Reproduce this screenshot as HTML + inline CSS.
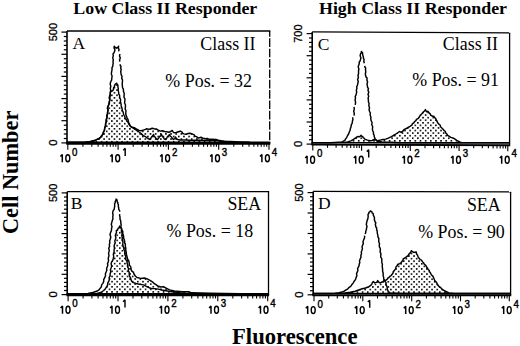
<!DOCTYPE html><html><head><meta charset="utf-8"><style>
html,body{margin:0;padding:0;background:#fff;width:520px;height:346px;overflow:hidden}
svg{display:block}
.serif{font-family:"Liberation Serif",serif}
.sans{font-family:"Liberation Sans",sans-serif}
.lab{stroke:none}
.tk{stroke:#000;stroke-width:0.45}
.yl{stroke:#000;stroke-width:0.3}
</style></head><body>
<svg width="520" height="346" viewBox="0 0 520 346">
<defs><pattern id="dotsA" patternUnits="userSpaceOnUse" x="105.90" y="125.40" width="5.15" height="5.15"><rect x="0" y="0" width="1.6" height="1.6" fill="#000"/><rect x="2.575" y="2.575" width="1.6" height="1.6" fill="#000"/></pattern><pattern id="dotsB" patternUnits="userSpaceOnUse" x="116.40" y="270.50" width="5.15" height="5.15"><rect x="0" y="0" width="1.6" height="1.6" fill="#000"/><rect x="2.575" y="2.575" width="1.6" height="1.6" fill="#000"/></pattern><pattern id="dotsC" patternUnits="userSpaceOnUse" x="424.80" y="119.40" width="5.15" height="5.15"><rect x="0" y="0" width="1.6" height="1.6" fill="#000"/><rect x="2.575" y="2.575" width="1.6" height="1.6" fill="#000"/></pattern><pattern id="dotsD" patternUnits="userSpaceOnUse" x="408.10" y="270.70" width="5.15" height="5.15"><rect x="0" y="0" width="1.6" height="1.6" fill="#000"/><rect x="2.575" y="2.575" width="1.6" height="1.6" fill="#000"/></pattern></defs>
<rect width="520" height="346" fill="#fff"/>

<text class="serif" x="73.3" y="13.5" font-size="17.2" font-weight="bold" textLength="184" lengthAdjust="spacingAndGlyphs">Low Class II Responder</text>
<text class="serif" x="319" y="13.5" font-size="17.2" font-weight="bold" textLength="188" lengthAdjust="spacingAndGlyphs">High Class II Responder</text>
<text class="serif" x="232" y="343.6" font-size="22.5" font-weight="bold" textLength="125.5" lengthAdjust="spacingAndGlyphs">Fluorescence</text>
<text class="serif" transform="translate(18.2,234) rotate(-90)" x="0" y="0" font-size="22.5" font-weight="bold" textLength="123.3" lengthAdjust="spacingAndGlyphs">Cell Number</text>
<path d="M67.0,142.3 L85.0,142.3 L90.4,141.5 L95.6,140.2 L99.1,138.4 L100.6,137.3 L101.7,135.8 L102.8,134.2 L103.4,132.3 L104.4,130.3 L104.7,128.0 L105.5,125.9 L105.6,123.7 L106.2,121.9 L106.2,120.0 L106.9,117.8 L106.9,115.5 L107.5,113.8 L107.6,112.0 L108.1,110.1 L107.4,108.2 L108.0,106.3 L108.9,104.2 L109.3,101.9 L109.9,99.5 L109.9,97.0 L110.3,95.0 L110.2,93.0 L111.0,91.5 L112.8,90.5 L113.5,89.4 L113.5,88.0 L114.3,86.9 L114.5,85.5 L115.5,84.0 L116.7,83.2 L117.1,84.2 L117.9,85.0 L117.9,86.8 L118.3,88.5 L118.1,90.2 L118.6,91.9 L118.7,93.8 L119.6,95.4 L119.7,97.5 L120.6,99.5 L120.4,101.6 L121.0,103.7 L121.2,105.9 L121.9,108.0 L122.3,110.2 L123.2,112.3 L123.6,114.5 L124.7,116.5 L125.3,118.4 L126.5,120.0 L127.0,121.2 L128.0,122.1 L128.7,124.1 L130.1,125.6 L130.9,126.7 L132.2,127.3 L134.3,127.6 L136.3,129.0 L139.1,130.4 L141.2,130.8 L143.3,130.1 L145.4,129.4 L146.8,128.7 L148.8,129.4 L150.9,128.7 L152.1,128.3 L154.2,128.7 L156.3,129.0 L158.3,130.1 L160.4,131.1 L162.5,130.8 L164.6,131.5 L166.7,131.8 L168.8,132.2 L170.8,131.5 L172.2,130.4 L172.9,131.8 L174.1,132.8 L176.2,132.5 L178.3,131.8 L180.3,131.1 L182.1,132.2 L182.7,133.3 L183.8,133.9 L185.9,134.2 L188.0,133.5 L190.1,133.2 L192.1,133.9 L194.2,134.9 L195.0,136.1 L196.3,136.7 L198.6,138.1 L200.9,137.3 L203.2,138.1 L205.6,138.7 L207.3,138.4 L208.5,139.2 L211.3,139.3 L216.0,139.4 L218.3,140.2 L221.2,140.7 L224.0,141.1 L230.4,141.4 L240.0,141.9 L250.0,142.3 L269.0,142.3 L269.0,142.3 L67.0,142.3 Z" fill="url(#dotsA)" stroke="#000" stroke-width="1.45" stroke-linejoin="round"/>
<path d="M67.0,142.3 L85.0,142.3 L90.4,141.5 L95.6,140.2 L99.1,138.4 L100.6,137.3 L101.7,135.8 L102.9,134.2 L103.4,132.3 L104.5,130.3 L104.7,128.0 L105.4,125.9 L105.6,123.7 L106.2,121.9 L106.2,120.0 L106.9,117.8 L106.9,115.5 L107.6,113.8 L107.6,112.0 L108.1,110.1 L107.5,108.2 L108.0,106.3 L109.1,104.2 L109.3,101.9 L109.8,100.0 L109.2,98.0 L109.6,96.0 L110.3,94.1 L110.3,92.0 L110.7,90.2 L110.3,88.4 L110.8,86.3 L110.2,84.1 L110.6,82.0 L111.6,80.2 L111.8,78.1 L112.1,76.0 L111.3,74.0 L111.6,71.9 L112.0,69.8 L112.0,67.7 L112.7,66.4 L112.9,64.9 L113.2,63.3 L113.0,61.7 L113.3,59.8 L112.7,57.9 L113.3,55.9 L113.0,54.0 L114.0,52.8 L114.6,51.3 L114.9,49.6 L114.0,47.9 L114.3,46.2 L115.2,47.4 L116.5,48.2 L117.8,47.4 L118.6,46.2 L118.3,47.9 L119.0,49.6 L118.6,51.3 M120.0,54.0 L119.5,55.9 L120.3,57.9 L119.6,59.8 L119.8,61.7 M120.2,64.3 L120.2,65.5 L121.0,66.3 L120.7,68.0 L121.2,69.8 L120.7,71.5 L121.0,73.3 L121.2,74.8 L122.0,76.1 L121.7,78.1 L122.5,80.0 L122.4,82.0 L122.2,84.2 L122.4,86.3 L122.6,87.8 L123.4,89.1 L123.4,91.2 L124.2,93.3 L124.1,95.4 L124.0,97.3 L125.0,99.0 L124.8,100.9 L124.6,103.0 L125.5,105.0 L125.4,107.1 L125.1,108.9 L126.0,110.5 L125.8,112.3 L125.8,114.6 L126.7,116.7 L127.1,118.2 L128.0,119.5 L128.5,122.0 L129.6,124.2 L129.8,125.6 L130.8,126.6 L133.6,128.3 L138.4,131.5 L141.2,133.5 L142.1,134.7 L143.3,135.6 L145.4,136.7 L147.4,138.1 L149.5,139.4 L150.7,138.4 L151.5,137.0 L152.7,135.9 L153.5,134.5 L154.2,136.2 L155.5,137.5 L156.2,138.8 L157.5,139.5 L158.7,138.1 L159.5,136.5 L160.8,135.8 L161.5,134.5 L162.3,136.2 L163.5,137.5 L164.2,138.8 L165.5,139.5 L166.7,138.1 L167.5,136.5 L168.7,135.7 L169.5,134.5 L170.2,136.0 L171.5,137.0 L172.3,138.4 L173.5,139.5 L174.8,138.5 L175.5,137.0 L176.3,138.4 L177.5,139.5 L180.0,140.0 L185.0,140.0 L190.0,140.2 L195.0,140.3 L200.0,140.3 L210.0,140.5 L216.0,140.5 L222.0,141.3 L230.0,142.0 L250.0,142.3" fill="none" stroke="#000" stroke-width="1.45" stroke-linejoin="round"/>
<line x1="67.0" y1="31.0" x2="270.34999999999997" y2="31.0" stroke="#000" stroke-width="1.3"/>
<line x1="269.7" y1="31.0" x2="269.7" y2="143.4" stroke="#000" stroke-width="1.3" stroke-dasharray="8.65 1.7" stroke-dashoffset="3"/>
<line x1="67.0" y1="31.0" x2="67.0" y2="143.4" stroke="#000" stroke-width="1.6"/>
<line x1="66.2" y1="143.4" x2="270.3" y2="143.4" stroke="#000" stroke-width="2.5"/>
<line x1="61.4" y1="142.9" x2="67.0" y2="142.9" stroke="#000" stroke-width="1.2"/>
<line x1="63.8" y1="138.5" x2="67.0" y2="138.5" stroke="#000" stroke-width="1.2"/>
<line x1="63.8" y1="134.0" x2="67.0" y2="134.0" stroke="#000" stroke-width="1.2"/>
<line x1="63.8" y1="129.6" x2="67.0" y2="129.6" stroke="#000" stroke-width="1.2"/>
<line x1="63.8" y1="125.2" x2="67.0" y2="125.2" stroke="#000" stroke-width="1.2"/>
<line x1="61.4" y1="120.7" x2="67.0" y2="120.7" stroke="#000" stroke-width="1.2"/>
<line x1="63.8" y1="116.3" x2="67.0" y2="116.3" stroke="#000" stroke-width="1.2"/>
<line x1="63.8" y1="111.9" x2="67.0" y2="111.9" stroke="#000" stroke-width="1.2"/>
<line x1="63.8" y1="107.4" x2="67.0" y2="107.4" stroke="#000" stroke-width="1.2"/>
<line x1="63.8" y1="103.0" x2="67.0" y2="103.0" stroke="#000" stroke-width="1.2"/>
<line x1="61.4" y1="98.6" x2="67.0" y2="98.6" stroke="#000" stroke-width="1.2"/>
<line x1="63.8" y1="94.1" x2="67.0" y2="94.1" stroke="#000" stroke-width="1.2"/>
<line x1="63.8" y1="89.7" x2="67.0" y2="89.7" stroke="#000" stroke-width="1.2"/>
<line x1="63.8" y1="85.3" x2="67.0" y2="85.3" stroke="#000" stroke-width="1.2"/>
<line x1="63.8" y1="80.9" x2="67.0" y2="80.9" stroke="#000" stroke-width="1.2"/>
<line x1="61.4" y1="76.4" x2="67.0" y2="76.4" stroke="#000" stroke-width="1.2"/>
<line x1="63.8" y1="72.0" x2="67.0" y2="72.0" stroke="#000" stroke-width="1.2"/>
<line x1="63.8" y1="67.6" x2="67.0" y2="67.6" stroke="#000" stroke-width="1.2"/>
<line x1="63.8" y1="63.1" x2="67.0" y2="63.1" stroke="#000" stroke-width="1.2"/>
<line x1="63.8" y1="58.7" x2="67.0" y2="58.7" stroke="#000" stroke-width="1.2"/>
<line x1="61.4" y1="54.3" x2="67.0" y2="54.3" stroke="#000" stroke-width="1.2"/>
<line x1="63.8" y1="49.8" x2="67.0" y2="49.8" stroke="#000" stroke-width="1.2"/>
<line x1="63.8" y1="45.4" x2="67.0" y2="45.4" stroke="#000" stroke-width="1.2"/>
<line x1="63.8" y1="41.0" x2="67.0" y2="41.0" stroke="#000" stroke-width="1.2"/>
<line x1="63.8" y1="36.5" x2="67.0" y2="36.5" stroke="#000" stroke-width="1.2"/>
<line x1="61.4" y1="32.1" x2="67.0" y2="32.1" stroke="#000" stroke-width="1.2"/>
<line x1="67.8" y1="143.40" x2="67.8" y2="149.65" stroke="#000" stroke-width="1.1"/>
<line x1="82.9" y1="143.40" x2="82.9" y2="146.85" stroke="#000" stroke-width="1.1"/>
<line x1="91.8" y1="143.40" x2="91.8" y2="146.85" stroke="#000" stroke-width="1.1"/>
<line x1="98.1" y1="143.40" x2="98.1" y2="146.85" stroke="#000" stroke-width="1.1"/>
<line x1="103.0" y1="143.40" x2="103.0" y2="146.85" stroke="#000" stroke-width="1.1"/>
<line x1="106.9" y1="143.40" x2="106.9" y2="146.85" stroke="#000" stroke-width="1.1"/>
<line x1="110.3" y1="143.40" x2="110.3" y2="146.85" stroke="#000" stroke-width="1.1"/>
<line x1="113.2" y1="143.40" x2="113.2" y2="146.85" stroke="#000" stroke-width="1.1"/>
<line x1="115.8" y1="143.40" x2="115.8" y2="146.85" stroke="#000" stroke-width="1.1"/>
<line x1="118.1" y1="143.40" x2="118.1" y2="149.65" stroke="#000" stroke-width="1.1"/>
<line x1="133.2" y1="143.40" x2="133.2" y2="146.85" stroke="#000" stroke-width="1.1"/>
<line x1="142.1" y1="143.40" x2="142.1" y2="146.85" stroke="#000" stroke-width="1.1"/>
<line x1="148.4" y1="143.40" x2="148.4" y2="146.85" stroke="#000" stroke-width="1.1"/>
<line x1="153.3" y1="143.40" x2="153.3" y2="146.85" stroke="#000" stroke-width="1.1"/>
<line x1="157.2" y1="143.40" x2="157.2" y2="146.85" stroke="#000" stroke-width="1.1"/>
<line x1="160.6" y1="143.40" x2="160.6" y2="146.85" stroke="#000" stroke-width="1.1"/>
<line x1="163.5" y1="143.40" x2="163.5" y2="146.85" stroke="#000" stroke-width="1.1"/>
<line x1="166.1" y1="143.40" x2="166.1" y2="146.85" stroke="#000" stroke-width="1.1"/>
<line x1="168.4" y1="143.40" x2="168.4" y2="149.65" stroke="#000" stroke-width="1.1"/>
<line x1="183.5" y1="143.40" x2="183.5" y2="146.85" stroke="#000" stroke-width="1.1"/>
<line x1="192.4" y1="143.40" x2="192.4" y2="146.85" stroke="#000" stroke-width="1.1"/>
<line x1="198.7" y1="143.40" x2="198.7" y2="146.85" stroke="#000" stroke-width="1.1"/>
<line x1="203.6" y1="143.40" x2="203.6" y2="146.85" stroke="#000" stroke-width="1.1"/>
<line x1="207.5" y1="143.40" x2="207.5" y2="146.85" stroke="#000" stroke-width="1.1"/>
<line x1="210.9" y1="143.40" x2="210.9" y2="146.85" stroke="#000" stroke-width="1.1"/>
<line x1="213.8" y1="143.40" x2="213.8" y2="146.85" stroke="#000" stroke-width="1.1"/>
<line x1="216.4" y1="143.40" x2="216.4" y2="146.85" stroke="#000" stroke-width="1.1"/>
<line x1="218.7" y1="143.40" x2="218.7" y2="149.65" stroke="#000" stroke-width="1.1"/>
<line x1="233.8" y1="143.40" x2="233.8" y2="146.85" stroke="#000" stroke-width="1.1"/>
<line x1="242.7" y1="143.40" x2="242.7" y2="146.85" stroke="#000" stroke-width="1.1"/>
<line x1="249.0" y1="143.40" x2="249.0" y2="146.85" stroke="#000" stroke-width="1.1"/>
<line x1="253.9" y1="143.40" x2="253.9" y2="146.85" stroke="#000" stroke-width="1.1"/>
<line x1="257.8" y1="143.40" x2="257.8" y2="146.85" stroke="#000" stroke-width="1.1"/>
<line x1="261.2" y1="143.40" x2="261.2" y2="146.85" stroke="#000" stroke-width="1.1"/>
<line x1="264.1" y1="143.40" x2="264.1" y2="146.85" stroke="#000" stroke-width="1.1"/>
<line x1="266.7" y1="143.40" x2="266.7" y2="146.85" stroke="#000" stroke-width="1.1"/>
<line x1="269.0" y1="143.40" x2="269.0" y2="149.65" stroke="#000" stroke-width="1.1"/>
<path d="M60.4,156.5 L62.3,154.5 L62.3,162.3" fill="none" stroke="#000" stroke-width="1.5" stroke-linejoin="bevel"/>
<ellipse cx="67.8" cy="158.3" rx="2.0" ry="3.5" fill="none" stroke="#000" stroke-width="1.4"/>
<text class="sans tk" x="72.1" y="155.7" font-size="11.6" textLength="5.4" lengthAdjust="spacingAndGlyphs">0</text>
<path d="M110.3,156.5 L112.2,154.5 L112.2,162.3" fill="none" stroke="#000" stroke-width="1.5" stroke-linejoin="bevel"/>
<ellipse cx="117.7" cy="158.3" rx="2.0" ry="3.5" fill="none" stroke="#000" stroke-width="1.4"/>
<path d="M123.3,150.2 L125.2,148.4 L125.2,156.0" fill="none" stroke="#000" stroke-width="1.45" stroke-linejoin="bevel"/>
<path d="M160.2,156.5 L162.1,154.5 L162.1,162.3" fill="none" stroke="#000" stroke-width="1.5" stroke-linejoin="bevel"/>
<ellipse cx="167.6" cy="158.3" rx="2.0" ry="3.5" fill="none" stroke="#000" stroke-width="1.4"/>
<text class="sans tk" x="171.9" y="155.7" font-size="11.6" textLength="5.4" lengthAdjust="spacingAndGlyphs">2</text>
<path d="M210.1,156.5 L212.0,154.5 L212.0,162.3" fill="none" stroke="#000" stroke-width="1.5" stroke-linejoin="bevel"/>
<ellipse cx="217.5" cy="158.3" rx="2.0" ry="3.5" fill="none" stroke="#000" stroke-width="1.4"/>
<text class="sans tk" x="221.8" y="155.7" font-size="11.6" textLength="5.4" lengthAdjust="spacingAndGlyphs">3</text>
<path d="M260.0,156.5 L261.9,154.5 L261.9,162.3" fill="none" stroke="#000" stroke-width="1.5" stroke-linejoin="bevel"/>
<ellipse cx="267.4" cy="158.3" rx="2.0" ry="3.5" fill="none" stroke="#000" stroke-width="1.4"/>
<text class="sans tk" x="271.7" y="155.7" font-size="11.6" textLength="5.4" lengthAdjust="spacingAndGlyphs">4</text>
<text class="sans yl" transform="translate(56.7,142.6) rotate(-90)" text-anchor="middle" font-size="11.3">0</text>
<text class="sans yl" transform="translate(56.7,32.1) rotate(-90)" text-anchor="middle" font-size="11.3" textLength="18.4" lengthAdjust="spacingAndGlyphs">500</text>
<text x="72.5" y="49.3" font-size="17.5" class="serif lab">A</text>
<text x="255.5" y="49.8" font-size="17.9" text-anchor="end" class="serif lab">Class II</text>
<text x="252" y="87.2" font-size="17.9" text-anchor="end" class="serif lab">% Pos. = 32</text>
<path d="M67.2,293.6 L90.0,293.6 L96.0,293.6 L100.8,292.5 L103.7,290.5 L105.4,288.7 L106.7,286.6 L107.6,285.1 L107.7,283.2 L108.6,281.7 L109.3,279.8 L109.1,277.7 L110.1,275.9 L110.1,273.8 L110.8,271.9 L110.4,269.8 L111.1,267.9 L111.7,266.0 L111.1,263.9 L111.6,262.0 L112.7,260.5 L113.2,258.7 L113.7,256.5 L113.3,254.2 L114.1,252.0 L114.1,249.8 L114.5,248.1 L114.1,246.2 L114.5,244.5 L115.2,242.8 L114.8,241.0 L115.4,239.3 L115.9,237.6 L115.3,235.8 L115.8,234.1 L116.5,232.5 L116.3,230.7 L117.5,229.9 L118.0,228.5 L119.1,227.4 L119.7,225.9 L120.3,227.3 L121.5,228.1 L121.8,229.9 L122.8,231.5 L122.8,233.8 L123.6,235.9 L123.6,238.1 L124.5,240.2 L124.7,242.4 L125.4,244.5 L125.3,246.3 L125.8,248.0 L125.7,250.0 L126.2,252.0 L126.4,254.5 L127.1,256.9 L127.5,259.0 L128.8,260.9 L129.2,263.0 L129.4,265.1 L130.8,266.9 L131.0,269.0 L131.6,270.9 L133.3,272.1 L134.0,274.0 L135.3,276.0 L137.0,277.5 L140.7,278.4 L144.4,278.0 L147.2,278.9 L150.0,280.3 L152.8,282.1 L154.0,283.5 L155.6,284.4 L158.3,286.3 L161.0,287.0 L163.3,286.6 L166.1,288.1 L169.6,289.9 L174.2,291.0 L182.3,291.6 L189.2,291.8 L191.5,292.8 L210.0,293.3 L240.0,293.6 L268.0,293.6 L268.0,293.6 L67.2,293.6 Z" fill="url(#dotsB)" stroke="#000" stroke-width="1.45" stroke-linejoin="round"/>
<path d="M67.2,293.6 L75.0,293.6 L88.0,293.5 L92.9,292.5 L97.3,291.0 L99.0,289.8 L100.3,288.1 L101.4,286.8 L101.6,284.9 L102.7,283.6 L103.7,281.7 L103.7,279.6 L104.7,277.7 L105.5,275.8 L105.4,273.7 L106.2,271.8 L106.8,270.2 L106.6,268.5 L107.2,266.9 L107.8,265.3 L107.5,263.6 L108.2,262.0 L108.6,260.4 L108.2,258.6 L108.6,257.0 L109.0,255.4 L108.5,253.6 L108.9,252.0 L109.3,250.1 L108.7,248.2 L109.6,246.4 L109.3,244.5 L109.9,242.8 L109.6,241.0 L110.2,239.3 L110.8,237.0 L110.0,234.7 L110.6,232.4 L111.4,230.7 L111.5,228.9 L112.0,226.6 L111.3,224.3 L111.9,222.0 L112.1,221.0 L112.9,218.9 L112.8,216.7 L113.1,215.0 L112.6,213.3 L112.9,211.6 L113.3,210.3 L114.2,209.5 L114.3,208.4 L114.7,206.2 L114.6,203.9 L115.2,202.7 L115.2,201.4 L115.9,200.3 L116.1,199.1 L117.1,200.1 L117.1,201.5 L117.8,202.6 L117.8,203.7 L118.4,204.6 L118.3,206.2 L118.7,207.7 L118.7,209.1 L119.4,210.3 L120.0,211.6 M119.7,214.1 L119.6,215.6 L120.0,217.0 L120.0,219.1 L120.8,221.0 L120.8,223.0 L121.2,225.0 L120.9,227.0 L121.5,229.0 L121.4,231.2 L122.2,233.3 L121.8,235.5 L122.3,237.6 L122.1,239.7 L123.0,241.6 L122.8,243.7 L122.9,245.9 L123.8,248.0 L123.9,249.7 L124.9,251.3 L124.8,253.0 L124.9,254.7 L125.8,256.3 L125.8,258.0 L125.9,259.9 L127.1,261.4 L127.1,263.3 L127.8,265.0 L127.7,266.9 L128.6,268.7 L128.3,270.6 L129.2,272.4 L129.2,274.3 L129.5,276.2 L130.6,277.9 L131.0,279.8 L131.8,281.5 L133.3,282.6 L136.1,283.5 L139.8,284.4 L143.5,284.9 L146.3,286.3 L149.1,287.7 L151.9,288.6 L154.6,288.6 L158.3,289.1 L162.0,290.0 L170.0,291.5 L180.0,292.8 L190.0,293.4 L200.0,293.6" fill="none" stroke="#000" stroke-width="1.45" stroke-linejoin="round"/>
<line x1="67.2" y1="191.7" x2="269.15" y2="191.7" stroke="#000" stroke-width="1.3"/>
<line x1="268.5" y1="191.7" x2="268.5" y2="295.1" stroke="#000" stroke-width="1.3"/>
<line x1="67.2" y1="191.7" x2="67.2" y2="295.1" stroke="#000" stroke-width="1.6"/>
<line x1="66.4" y1="295.1" x2="269.1" y2="295.1" stroke="#000" stroke-width="2.3"/>
<line x1="61.6" y1="294.6" x2="67.2" y2="294.6" stroke="#000" stroke-width="1.2"/>
<line x1="64.0" y1="290.5" x2="67.2" y2="290.5" stroke="#000" stroke-width="1.2"/>
<line x1="64.0" y1="286.5" x2="67.2" y2="286.5" stroke="#000" stroke-width="1.2"/>
<line x1="64.0" y1="282.4" x2="67.2" y2="282.4" stroke="#000" stroke-width="1.2"/>
<line x1="64.0" y1="278.3" x2="67.2" y2="278.3" stroke="#000" stroke-width="1.2"/>
<line x1="61.6" y1="274.3" x2="67.2" y2="274.3" stroke="#000" stroke-width="1.2"/>
<line x1="64.0" y1="270.2" x2="67.2" y2="270.2" stroke="#000" stroke-width="1.2"/>
<line x1="64.0" y1="266.1" x2="67.2" y2="266.1" stroke="#000" stroke-width="1.2"/>
<line x1="64.0" y1="262.1" x2="67.2" y2="262.1" stroke="#000" stroke-width="1.2"/>
<line x1="64.0" y1="258.0" x2="67.2" y2="258.0" stroke="#000" stroke-width="1.2"/>
<line x1="61.6" y1="253.9" x2="67.2" y2="253.9" stroke="#000" stroke-width="1.2"/>
<line x1="64.0" y1="249.9" x2="67.2" y2="249.9" stroke="#000" stroke-width="1.2"/>
<line x1="64.0" y1="245.8" x2="67.2" y2="245.8" stroke="#000" stroke-width="1.2"/>
<line x1="64.0" y1="241.7" x2="67.2" y2="241.7" stroke="#000" stroke-width="1.2"/>
<line x1="64.0" y1="237.6" x2="67.2" y2="237.6" stroke="#000" stroke-width="1.2"/>
<line x1="61.6" y1="233.6" x2="67.2" y2="233.6" stroke="#000" stroke-width="1.2"/>
<line x1="64.0" y1="229.5" x2="67.2" y2="229.5" stroke="#000" stroke-width="1.2"/>
<line x1="64.0" y1="225.4" x2="67.2" y2="225.4" stroke="#000" stroke-width="1.2"/>
<line x1="64.0" y1="221.4" x2="67.2" y2="221.4" stroke="#000" stroke-width="1.2"/>
<line x1="64.0" y1="217.3" x2="67.2" y2="217.3" stroke="#000" stroke-width="1.2"/>
<line x1="61.6" y1="213.2" x2="67.2" y2="213.2" stroke="#000" stroke-width="1.2"/>
<line x1="64.0" y1="209.2" x2="67.2" y2="209.2" stroke="#000" stroke-width="1.2"/>
<line x1="64.0" y1="205.1" x2="67.2" y2="205.1" stroke="#000" stroke-width="1.2"/>
<line x1="64.0" y1="201.0" x2="67.2" y2="201.0" stroke="#000" stroke-width="1.2"/>
<line x1="64.0" y1="197.0" x2="67.2" y2="197.0" stroke="#000" stroke-width="1.2"/>
<line x1="61.6" y1="192.9" x2="67.2" y2="192.9" stroke="#000" stroke-width="1.2"/>
<line x1="68.1" y1="295.10" x2="68.1" y2="301.25" stroke="#000" stroke-width="1.1"/>
<line x1="83.1" y1="295.10" x2="83.1" y2="298.45" stroke="#000" stroke-width="1.1"/>
<line x1="91.9" y1="295.10" x2="91.9" y2="298.45" stroke="#000" stroke-width="1.1"/>
<line x1="98.1" y1="295.10" x2="98.1" y2="298.45" stroke="#000" stroke-width="1.1"/>
<line x1="103.0" y1="295.10" x2="103.0" y2="298.45" stroke="#000" stroke-width="1.1"/>
<line x1="106.9" y1="295.10" x2="106.9" y2="298.45" stroke="#000" stroke-width="1.1"/>
<line x1="110.3" y1="295.10" x2="110.3" y2="298.45" stroke="#000" stroke-width="1.1"/>
<line x1="113.2" y1="295.10" x2="113.2" y2="298.45" stroke="#000" stroke-width="1.1"/>
<line x1="115.7" y1="295.10" x2="115.7" y2="298.45" stroke="#000" stroke-width="1.1"/>
<line x1="118.0" y1="295.10" x2="118.0" y2="301.25" stroke="#000" stroke-width="1.1"/>
<line x1="133.0" y1="295.10" x2="133.0" y2="298.45" stroke="#000" stroke-width="1.1"/>
<line x1="141.8" y1="295.10" x2="141.8" y2="298.45" stroke="#000" stroke-width="1.1"/>
<line x1="148.0" y1="295.10" x2="148.0" y2="298.45" stroke="#000" stroke-width="1.1"/>
<line x1="152.9" y1="295.10" x2="152.9" y2="298.45" stroke="#000" stroke-width="1.1"/>
<line x1="156.8" y1="295.10" x2="156.8" y2="298.45" stroke="#000" stroke-width="1.1"/>
<line x1="160.2" y1="295.10" x2="160.2" y2="298.45" stroke="#000" stroke-width="1.1"/>
<line x1="163.1" y1="295.10" x2="163.1" y2="298.45" stroke="#000" stroke-width="1.1"/>
<line x1="165.6" y1="295.10" x2="165.6" y2="298.45" stroke="#000" stroke-width="1.1"/>
<line x1="167.9" y1="295.10" x2="167.9" y2="301.25" stroke="#000" stroke-width="1.1"/>
<line x1="182.9" y1="295.10" x2="182.9" y2="298.45" stroke="#000" stroke-width="1.1"/>
<line x1="191.7" y1="295.10" x2="191.7" y2="298.45" stroke="#000" stroke-width="1.1"/>
<line x1="197.9" y1="295.10" x2="197.9" y2="298.45" stroke="#000" stroke-width="1.1"/>
<line x1="202.8" y1="295.10" x2="202.8" y2="298.45" stroke="#000" stroke-width="1.1"/>
<line x1="206.7" y1="295.10" x2="206.7" y2="298.45" stroke="#000" stroke-width="1.1"/>
<line x1="210.1" y1="295.10" x2="210.1" y2="298.45" stroke="#000" stroke-width="1.1"/>
<line x1="213.0" y1="295.10" x2="213.0" y2="298.45" stroke="#000" stroke-width="1.1"/>
<line x1="215.5" y1="295.10" x2="215.5" y2="298.45" stroke="#000" stroke-width="1.1"/>
<line x1="217.8" y1="295.10" x2="217.8" y2="301.25" stroke="#000" stroke-width="1.1"/>
<line x1="232.8" y1="295.10" x2="232.8" y2="298.45" stroke="#000" stroke-width="1.1"/>
<line x1="241.6" y1="295.10" x2="241.6" y2="298.45" stroke="#000" stroke-width="1.1"/>
<line x1="247.8" y1="295.10" x2="247.8" y2="298.45" stroke="#000" stroke-width="1.1"/>
<line x1="252.7" y1="295.10" x2="252.7" y2="298.45" stroke="#000" stroke-width="1.1"/>
<line x1="256.6" y1="295.10" x2="256.6" y2="298.45" stroke="#000" stroke-width="1.1"/>
<line x1="260.0" y1="295.10" x2="260.0" y2="298.45" stroke="#000" stroke-width="1.1"/>
<line x1="262.9" y1="295.10" x2="262.9" y2="298.45" stroke="#000" stroke-width="1.1"/>
<line x1="265.4" y1="295.10" x2="265.4" y2="298.45" stroke="#000" stroke-width="1.1"/>
<line x1="267.7" y1="295.10" x2="267.7" y2="301.25" stroke="#000" stroke-width="1.1"/>
<path d="M60.6,308.0 L62.5,306.0 L62.5,313.8" fill="none" stroke="#000" stroke-width="1.5" stroke-linejoin="bevel"/>
<ellipse cx="68.0" cy="309.8" rx="2.0" ry="3.5" fill="none" stroke="#000" stroke-width="1.4"/>
<text class="sans tk" x="72.3" y="307.2" font-size="11.6" textLength="5.4" lengthAdjust="spacingAndGlyphs">0</text>
<path d="M110.1,308.0 L112.0,306.0 L112.0,313.8" fill="none" stroke="#000" stroke-width="1.5" stroke-linejoin="bevel"/>
<ellipse cx="117.5" cy="309.8" rx="2.0" ry="3.5" fill="none" stroke="#000" stroke-width="1.4"/>
<path d="M123.1,301.7 L125.0,299.9 L125.0,307.5" fill="none" stroke="#000" stroke-width="1.45" stroke-linejoin="bevel"/>
<path d="M159.6,308.0 L161.5,306.0 L161.5,313.8" fill="none" stroke="#000" stroke-width="1.5" stroke-linejoin="bevel"/>
<ellipse cx="167.0" cy="309.8" rx="2.0" ry="3.5" fill="none" stroke="#000" stroke-width="1.4"/>
<text class="sans tk" x="171.3" y="307.2" font-size="11.6" textLength="5.4" lengthAdjust="spacingAndGlyphs">2</text>
<path d="M209.1,308.0 L211.0,306.0 L211.0,313.8" fill="none" stroke="#000" stroke-width="1.5" stroke-linejoin="bevel"/>
<ellipse cx="216.5" cy="309.8" rx="2.0" ry="3.5" fill="none" stroke="#000" stroke-width="1.4"/>
<text class="sans tk" x="220.8" y="307.2" font-size="11.6" textLength="5.4" lengthAdjust="spacingAndGlyphs">3</text>
<path d="M258.6,308.0 L260.5,306.0 L260.5,313.8" fill="none" stroke="#000" stroke-width="1.5" stroke-linejoin="bevel"/>
<ellipse cx="266.0" cy="309.8" rx="2.0" ry="3.5" fill="none" stroke="#000" stroke-width="1.4"/>
<text class="sans tk" x="270.3" y="307.2" font-size="11.6" textLength="5.4" lengthAdjust="spacingAndGlyphs">4</text>
<text class="sans yl" transform="translate(56.9,294.3) rotate(-90)" text-anchor="middle" font-size="11.3">0</text>
<text class="sans yl" transform="translate(56.9,192.9) rotate(-90)" text-anchor="middle" font-size="11.3" textLength="18.4" lengthAdjust="spacingAndGlyphs">500</text>
<text x="70.8" y="208.5" font-size="17.5" class="serif lab">B</text>
<text x="261.2" y="210.4" font-size="17.9" text-anchor="end" class="serif lab">SEA</text>
<text x="253.2" y="236.9" font-size="17.9" text-anchor="end" class="serif lab">% Pos. = 18</text>
<path d="M312.0,142.8 L338.0,142.8 L343.9,142.5 L347.7,141.9 L350.9,140.9 L353.5,139.3 L356.0,137.7 L357.6,136.5 L359.2,136.8 L360.3,136.2 L361.1,135.2 L361.6,136.2 L362.7,136.5 L363.2,137.7 L364.3,138.4 L364.7,139.1 L367.4,140.1 L370.1,140.8 L372.1,140.5 L374.8,139.1 L377.5,140.8 L380.2,140.1 L382.9,139.5 L385.6,139.1 L388.3,138.1 L391.0,136.8 L395.2,134.5 L399.5,131.5 L401.3,132.3 L402.8,131.2 L403.9,129.7 L407.3,128.0 L410.4,126.2 L411.8,125.2 L412.5,123.6 L413.8,122.8 L414.7,121.5 L415.9,120.6 L416.5,119.3 L418.3,118.3 L419.5,116.7 L420.2,115.2 L421.9,113.8 L423.2,112.1 L424.5,111.0 L425.4,109.5 L425.8,110.7 L426.7,111.7 L428.0,111.3 L428.9,112.8 L430.2,113.9 L430.8,115.2 L431.9,116.0 L434.1,116.5 L434.8,117.7 L435.8,118.6 L436.2,120.0 L437.1,121.2 L437.5,122.4 L438.4,123.4 L439.1,124.5 L440.2,125.2 L440.5,126.7 L441.6,127.7 L442.3,128.7 L443.3,129.3 L444.0,130.6 L445.3,131.3 L445.7,132.9 L446.9,134.1 L447.6,135.4 L448.9,136.2 L450.9,137.4 L453.4,138.2 L455.4,139.4 L457.8,141.0 L460.2,142.2 L462.3,142.6 L470.0,142.8 L509.5,142.8 L509.5,142.8 L312.0,142.8 Z" fill="url(#dotsC)" stroke="#000" stroke-width="1.45" stroke-linejoin="round"/>
<path d="M312.0,142.8 L330.0,142.8 L335.0,142.5 L338.8,142.2 L342.0,141.9 L343.9,140.9 L345.0,140.2 L345.5,139.0 L346.7,137.6 L347.4,135.8 L348.6,134.0 L349.3,132.0 L350.1,130.3 L350.4,128.4 L351.1,126.6 L351.3,124.7 L352.2,123.3 L352.3,121.7 L352.9,119.5 L352.7,117.3 M354.0,115.6 L354.3,113.4 L353.7,111.2 L354.3,109.1 L354.0,106.9 M355.2,104.8 L355.6,102.4 L355.1,100.0 L355.5,98.2 L355.2,96.3 L356.0,95.1 L356.3,93.7 L356.7,92.0 L356.3,90.2 L356.9,88.5 L356.7,86.7 L357.5,85.1 L357.8,83.3 L358.3,81.4 L357.6,79.4 L358.4,77.5 L358.0,75.5 L358.6,73.3 L358.5,71.0 L358.9,69.0 L358.2,67.0 L358.7,65.0 L359.3,63.7 L359.1,62.3 L360.0,61.1 L360.4,59.7 L360.9,57.7 L360.1,55.7 L360.6,53.7 L361.4,52.7 L361.3,51.5 L362.6,52.8 L362.7,55.0 L363.4,57.1 L363.4,58.3 L364.1,59.3 L363.8,61.3 L364.3,63.2 M364.7,65.8 L364.9,67.0 L365.6,68.0 L365.5,70.0 L365.8,72.0 L365.3,73.7 L365.6,75.5 L366.0,77.0 L367.1,78.1 L366.9,80.1 L367.6,82.0 L367.0,84.0 L367.4,85.9 L367.6,87.3 L368.4,88.5 L368.0,90.4 L368.8,92.3 L368.0,94.2 L368.7,96.2 L368.1,98.1 L368.4,100.0 L368.4,101.8 L369.1,103.5 L368.8,105.5 L369.5,107.5 L369.1,109.5 L369.5,111.3 L370.4,113.0 L370.1,115.1 L370.9,117.1 L370.8,119.1 L371.2,120.9 L372.1,122.5 L371.8,124.7 L372.7,126.8 L372.4,129.0 L372.7,130.8 L373.5,132.4 L373.4,133.8 L374.1,135.1 L374.3,136.9 L375.1,138.5 L376.0,140.2 L377.5,141.3 L382.0,142.0 L390.0,142.3 L400.0,142.8 L420.0,142.8 L509.5,142.8" fill="none" stroke="#000" stroke-width="1.45" stroke-linejoin="round"/>
<line x1="312.2" y1="31.9" x2="510.25" y2="32.8" stroke="#000" stroke-width="1.3"/>
<line x1="509.6" y1="32.8" x2="509.6" y2="145.3" stroke="#000" stroke-width="1.3"/>
<line x1="312.2" y1="31.9" x2="312.2" y2="144.6" stroke="#000" stroke-width="1.6"/>
<line x1="311.4" y1="144.6" x2="510.20000000000005" y2="145.3" stroke="#000" stroke-width="1.9"/>
<line x1="306.6" y1="144.1" x2="312.2" y2="144.1" stroke="#000" stroke-width="1.2"/>
<line x1="309.0" y1="139.7" x2="312.2" y2="139.7" stroke="#000" stroke-width="1.2"/>
<line x1="309.0" y1="135.3" x2="312.2" y2="135.3" stroke="#000" stroke-width="1.2"/>
<line x1="309.0" y1="130.8" x2="312.2" y2="130.8" stroke="#000" stroke-width="1.2"/>
<line x1="309.0" y1="126.4" x2="312.2" y2="126.4" stroke="#000" stroke-width="1.2"/>
<line x1="306.6" y1="122.0" x2="312.2" y2="122.0" stroke="#000" stroke-width="1.2"/>
<line x1="309.0" y1="117.6" x2="312.2" y2="117.6" stroke="#000" stroke-width="1.2"/>
<line x1="309.0" y1="113.2" x2="312.2" y2="113.2" stroke="#000" stroke-width="1.2"/>
<line x1="309.0" y1="108.7" x2="312.2" y2="108.7" stroke="#000" stroke-width="1.2"/>
<line x1="309.0" y1="104.3" x2="312.2" y2="104.3" stroke="#000" stroke-width="1.2"/>
<line x1="306.6" y1="99.9" x2="312.2" y2="99.9" stroke="#000" stroke-width="1.2"/>
<line x1="309.0" y1="95.5" x2="312.2" y2="95.5" stroke="#000" stroke-width="1.2"/>
<line x1="309.0" y1="91.1" x2="312.2" y2="91.1" stroke="#000" stroke-width="1.2"/>
<line x1="309.0" y1="86.6" x2="312.2" y2="86.6" stroke="#000" stroke-width="1.2"/>
<line x1="309.0" y1="82.2" x2="312.2" y2="82.2" stroke="#000" stroke-width="1.2"/>
<line x1="306.6" y1="77.8" x2="312.2" y2="77.8" stroke="#000" stroke-width="1.2"/>
<line x1="309.0" y1="73.4" x2="312.2" y2="73.4" stroke="#000" stroke-width="1.2"/>
<line x1="309.0" y1="69.0" x2="312.2" y2="69.0" stroke="#000" stroke-width="1.2"/>
<line x1="309.0" y1="64.5" x2="312.2" y2="64.5" stroke="#000" stroke-width="1.2"/>
<line x1="309.0" y1="60.1" x2="312.2" y2="60.1" stroke="#000" stroke-width="1.2"/>
<line x1="306.6" y1="55.7" x2="312.2" y2="55.7" stroke="#000" stroke-width="1.2"/>
<line x1="309.0" y1="51.3" x2="312.2" y2="51.3" stroke="#000" stroke-width="1.2"/>
<line x1="309.0" y1="46.9" x2="312.2" y2="46.9" stroke="#000" stroke-width="1.2"/>
<line x1="309.0" y1="42.4" x2="312.2" y2="42.4" stroke="#000" stroke-width="1.2"/>
<line x1="309.0" y1="38.0" x2="312.2" y2="38.0" stroke="#000" stroke-width="1.2"/>
<line x1="306.6" y1="33.6" x2="312.2" y2="33.6" stroke="#000" stroke-width="1.2"/>
<line x1="312.8" y1="144.60" x2="312.8" y2="150.55" stroke="#000" stroke-width="1.1"/>
<line x1="327.5" y1="144.65" x2="327.5" y2="147.80" stroke="#000" stroke-width="1.1"/>
<line x1="336.1" y1="144.68" x2="336.1" y2="147.83" stroke="#000" stroke-width="1.1"/>
<line x1="342.2" y1="144.71" x2="342.2" y2="147.86" stroke="#000" stroke-width="1.1"/>
<line x1="346.9" y1="144.72" x2="346.9" y2="147.87" stroke="#000" stroke-width="1.1"/>
<line x1="350.7" y1="144.74" x2="350.7" y2="147.89" stroke="#000" stroke-width="1.1"/>
<line x1="354.0" y1="144.75" x2="354.0" y2="147.90" stroke="#000" stroke-width="1.1"/>
<line x1="356.8" y1="144.76" x2="356.8" y2="147.91" stroke="#000" stroke-width="1.1"/>
<line x1="359.3" y1="144.77" x2="359.3" y2="147.92" stroke="#000" stroke-width="1.1"/>
<line x1="361.6" y1="144.78" x2="361.6" y2="150.72" stroke="#000" stroke-width="1.1"/>
<line x1="376.2" y1="144.83" x2="376.2" y2="147.98" stroke="#000" stroke-width="1.1"/>
<line x1="384.8" y1="144.86" x2="384.8" y2="148.01" stroke="#000" stroke-width="1.1"/>
<line x1="390.9" y1="144.88" x2="390.9" y2="148.03" stroke="#000" stroke-width="1.1"/>
<line x1="395.6" y1="144.90" x2="395.6" y2="148.05" stroke="#000" stroke-width="1.1"/>
<line x1="399.5" y1="144.91" x2="399.5" y2="148.06" stroke="#000" stroke-width="1.1"/>
<line x1="402.7" y1="144.92" x2="402.7" y2="148.07" stroke="#000" stroke-width="1.1"/>
<line x1="405.6" y1="144.93" x2="405.6" y2="148.08" stroke="#000" stroke-width="1.1"/>
<line x1="408.1" y1="144.94" x2="408.1" y2="148.09" stroke="#000" stroke-width="1.1"/>
<line x1="410.3" y1="144.95" x2="410.3" y2="150.90" stroke="#000" stroke-width="1.1"/>
<line x1="425.0" y1="145.00" x2="425.0" y2="148.15" stroke="#000" stroke-width="1.1"/>
<line x1="433.6" y1="145.03" x2="433.6" y2="148.18" stroke="#000" stroke-width="1.1"/>
<line x1="439.7" y1="145.05" x2="439.7" y2="148.20" stroke="#000" stroke-width="1.1"/>
<line x1="444.4" y1="145.07" x2="444.4" y2="148.22" stroke="#000" stroke-width="1.1"/>
<line x1="448.2" y1="145.08" x2="448.2" y2="148.23" stroke="#000" stroke-width="1.1"/>
<line x1="451.5" y1="145.09" x2="451.5" y2="148.24" stroke="#000" stroke-width="1.1"/>
<line x1="454.3" y1="145.10" x2="454.3" y2="148.25" stroke="#000" stroke-width="1.1"/>
<line x1="456.8" y1="145.11" x2="456.8" y2="148.26" stroke="#000" stroke-width="1.1"/>
<line x1="459.1" y1="145.12" x2="459.1" y2="151.07" stroke="#000" stroke-width="1.1"/>
<line x1="473.7" y1="145.17" x2="473.7" y2="148.32" stroke="#000" stroke-width="1.1"/>
<line x1="482.3" y1="145.20" x2="482.3" y2="148.35" stroke="#000" stroke-width="1.1"/>
<line x1="488.4" y1="145.22" x2="488.4" y2="148.37" stroke="#000" stroke-width="1.1"/>
<line x1="493.1" y1="145.24" x2="493.1" y2="148.39" stroke="#000" stroke-width="1.1"/>
<line x1="497.0" y1="145.26" x2="497.0" y2="148.41" stroke="#000" stroke-width="1.1"/>
<line x1="500.2" y1="145.27" x2="500.2" y2="148.42" stroke="#000" stroke-width="1.1"/>
<line x1="503.1" y1="145.28" x2="503.1" y2="148.43" stroke="#000" stroke-width="1.1"/>
<line x1="505.6" y1="145.29" x2="505.6" y2="148.44" stroke="#000" stroke-width="1.1"/>
<line x1="507.8" y1="145.29" x2="507.8" y2="151.24" stroke="#000" stroke-width="1.1"/>
<path d="M305.2,157.9 L307.1,155.9 L307.1,163.7" fill="none" stroke="#000" stroke-width="1.5" stroke-linejoin="bevel"/>
<ellipse cx="312.6" cy="159.7" rx="2.0" ry="3.5" fill="none" stroke="#000" stroke-width="1.4"/>
<text class="sans tk" x="316.9" y="157.1" font-size="11.6" textLength="5.4" lengthAdjust="spacingAndGlyphs">0</text>
<path d="M353.8,157.9 L355.7,155.9 L355.7,163.7" fill="none" stroke="#000" stroke-width="1.5" stroke-linejoin="bevel"/>
<ellipse cx="361.2" cy="159.7" rx="2.0" ry="3.5" fill="none" stroke="#000" stroke-width="1.4"/>
<path d="M366.8,151.6 L368.7,149.8 L368.7,157.4" fill="none" stroke="#000" stroke-width="1.45" stroke-linejoin="bevel"/>
<path d="M402.5,157.9 L404.4,155.9 L404.4,163.7" fill="none" stroke="#000" stroke-width="1.5" stroke-linejoin="bevel"/>
<ellipse cx="409.9" cy="159.7" rx="2.0" ry="3.5" fill="none" stroke="#000" stroke-width="1.4"/>
<text class="sans tk" x="414.2" y="157.1" font-size="11.6" textLength="5.4" lengthAdjust="spacingAndGlyphs">2</text>
<path d="M451.1,157.9 L453.0,155.9 L453.0,163.7" fill="none" stroke="#000" stroke-width="1.5" stroke-linejoin="bevel"/>
<ellipse cx="458.5" cy="159.7" rx="2.0" ry="3.5" fill="none" stroke="#000" stroke-width="1.4"/>
<text class="sans tk" x="462.8" y="157.1" font-size="11.6" textLength="5.4" lengthAdjust="spacingAndGlyphs">3</text>
<path d="M499.8,157.9 L501.7,155.9 L501.7,163.7" fill="none" stroke="#000" stroke-width="1.5" stroke-linejoin="bevel"/>
<ellipse cx="507.2" cy="159.7" rx="2.0" ry="3.5" fill="none" stroke="#000" stroke-width="1.4"/>
<text class="sans tk" x="511.5" y="157.1" font-size="11.6" textLength="5.4" lengthAdjust="spacingAndGlyphs">4</text>
<text class="sans yl" transform="translate(301.9,143.8) rotate(-90)" text-anchor="middle" font-size="11.3">0</text>
<text class="sans yl" transform="translate(301.9,33.6) rotate(-90)" text-anchor="middle" font-size="11.3" textLength="18.4" lengthAdjust="spacingAndGlyphs">700</text>
<text x="317.8" y="49.8" font-size="17.5" class="serif lab">C</text>
<text x="498.0" y="50.1" font-size="17.9" text-anchor="end" class="serif lab">Class II</text>
<text x="498.9" y="86.1" font-size="17.9" text-anchor="end" class="serif lab">% Pos. = 91</text>
<path d="M313.2,293.4 L335.0,293.4 L343.1,293.3 L350.2,292.3 L355.2,291.3 L359.3,289.8 L362.3,288.8 L365.5,288.0 L368.9,286.7 L370.7,285.4 L371.9,284.1 L372.4,282.4 L373.3,281.5 L374.6,282.8 L376.3,282.4 L377.3,281.8 L377.6,280.6 L378.5,281.5 L379.1,282.5 L380.2,282.8 L382.0,282.0 L383.1,281.6 L383.7,280.6 L385.9,280.2 L387.1,279.3 L388.0,278.0 L389.1,277.4 L389.8,276.3 L391.1,275.6 L391.9,274.5 L393.0,273.2 L393.3,271.4 L394.5,270.2 L395.6,268.9 L395.9,267.0 L397.1,265.8 L397.6,264.5 L399.7,263.6 L401.2,262.5 L402.3,261.0 L403.1,260.1 L403.2,258.9 L404.9,258.0 L406.7,256.7 L408.1,255.7 L408.9,254.1 L410.5,252.6 L411.5,250.7 L412.5,251.7 L413.7,252.4 L416.3,252.0 L416.6,253.8 L417.6,255.4 L418.2,257.1 L419.3,258.5 L420.2,259.6 L421.5,260.2 L422.4,261.7 L423.6,262.8 L424.4,264.3 L425.8,265.4 L426.4,266.8 L427.5,268.0 L428.2,269.5 L429.3,270.6 L429.5,271.8 L430.4,272.7 L431.3,274.8 L433.0,276.4 L433.9,278.5 L434.7,280.6 L436.5,282.2 L437.3,284.3 L438.8,286.3 L440.8,287.7 L442.3,289.5 L444.3,290.6 L448.9,293.0 L454.7,293.4 L470.0,293.4 L510.0,293.4 L510.0,293.4 L313.2,293.4 Z" fill="url(#dotsD)" stroke="#000" stroke-width="1.45" stroke-linejoin="round"/>
<path d="M313.2,293.4 L325.0,293.4 L335.0,293.3 L339.0,292.8 L343.1,291.8 L346.1,289.8 L347.9,288.8 L349.2,287.3 L350.7,286.3 L351.7,284.8 L353.1,283.1 L354.2,281.2 L355.6,279.4 L356.2,277.2 L356.9,275.6 L356.5,273.7 L357.2,272.1 L357.9,270.5 L357.6,268.7 L358.3,267.1 L359.1,265.9 L359.1,264.4 L359.8,262.8 L359.5,260.9 L360.1,259.3 L360.9,257.4 L360.9,255.3 L361.5,253.7 L361.3,251.9 L361.9,250.2 L362.4,248.6 L362.0,246.8 L362.6,245.2 L363.3,243.6 L363.0,241.7 L363.6,240.1 L364.5,237.9 L364.6,235.6 M365.1,234.0 L365.7,232.6 L365.8,231.0 L366.4,229.8 L366.5,228.4 L367.0,226.4 L366.3,224.3 L366.7,222.3 L367.1,220.6 L367.8,218.9 L368.2,216.7 L368.0,214.5 L368.8,213.6 L368.9,212.4 L369.8,211.8 L370.4,210.9 L371.9,211.9 L372.2,213.0 L373.2,213.7 L373.3,215.1 L373.9,216.3 L374.5,218.0 L374.3,219.6 L374.9,221.0 L375.1,222.0 L375.8,222.8 L375.4,224.3 L375.6,225.8 L375.9,227.0 L376.7,228.0 L376.6,229.6 L377.2,231.0 L377.3,233.1 L377.8,235.1 L377.9,236.8 L378.8,238.4 L378.8,240.1 L378.7,241.8 L379.5,243.5 L379.3,245.2 L379.4,246.9 L380.3,248.5 L380.3,250.2 L380.1,251.9 L380.9,253.6 L380.8,255.3 L380.7,257.1 L381.8,258.6 L381.8,260.3 L381.8,262.4 L382.4,264.4 L382.2,266.7 L382.6,268.9 L382.6,271.1 L383.2,273.3 L383.1,275.5 L383.7,277.6 L383.7,279.0 L384.5,280.2 L384.9,281.5 L385.9,282.4 L386.1,284.9 L387.2,287.2 L387.2,289.0 L388.0,290.6 L388.8,292.0 L390.0,293.0 L400.0,293.4 L510.0,293.4" fill="none" stroke="#000" stroke-width="1.45" stroke-linejoin="round"/>
<line x1="313.2" y1="191.4" x2="511.25" y2="191.8" stroke="#000" stroke-width="1.3"/>
<line x1="510.6" y1="191.8" x2="510.6" y2="295.3" stroke="#000" stroke-width="1.3"/>
<line x1="313.2" y1="191.4" x2="313.2" y2="295.3" stroke="#000" stroke-width="1.6"/>
<line x1="312.4" y1="295.3" x2="511.20000000000005" y2="295.3" stroke="#000" stroke-width="2.0"/>
<line x1="307.6" y1="294.8" x2="313.2" y2="294.8" stroke="#000" stroke-width="1.2"/>
<line x1="310.0" y1="290.7" x2="313.2" y2="290.7" stroke="#000" stroke-width="1.2"/>
<line x1="310.0" y1="286.6" x2="313.2" y2="286.6" stroke="#000" stroke-width="1.2"/>
<line x1="310.0" y1="282.5" x2="313.2" y2="282.5" stroke="#000" stroke-width="1.2"/>
<line x1="310.0" y1="278.4" x2="313.2" y2="278.4" stroke="#000" stroke-width="1.2"/>
<line x1="307.6" y1="274.4" x2="313.2" y2="274.4" stroke="#000" stroke-width="1.2"/>
<line x1="310.0" y1="270.3" x2="313.2" y2="270.3" stroke="#000" stroke-width="1.2"/>
<line x1="310.0" y1="266.2" x2="313.2" y2="266.2" stroke="#000" stroke-width="1.2"/>
<line x1="310.0" y1="262.1" x2="313.2" y2="262.1" stroke="#000" stroke-width="1.2"/>
<line x1="310.0" y1="258.0" x2="313.2" y2="258.0" stroke="#000" stroke-width="1.2"/>
<line x1="307.6" y1="253.9" x2="313.2" y2="253.9" stroke="#000" stroke-width="1.2"/>
<line x1="310.0" y1="249.8" x2="313.2" y2="249.8" stroke="#000" stroke-width="1.2"/>
<line x1="310.0" y1="245.7" x2="313.2" y2="245.7" stroke="#000" stroke-width="1.2"/>
<line x1="310.0" y1="241.7" x2="313.2" y2="241.7" stroke="#000" stroke-width="1.2"/>
<line x1="310.0" y1="237.6" x2="313.2" y2="237.6" stroke="#000" stroke-width="1.2"/>
<line x1="307.6" y1="233.5" x2="313.2" y2="233.5" stroke="#000" stroke-width="1.2"/>
<line x1="310.0" y1="229.4" x2="313.2" y2="229.4" stroke="#000" stroke-width="1.2"/>
<line x1="310.0" y1="225.3" x2="313.2" y2="225.3" stroke="#000" stroke-width="1.2"/>
<line x1="310.0" y1="221.2" x2="313.2" y2="221.2" stroke="#000" stroke-width="1.2"/>
<line x1="310.0" y1="217.1" x2="313.2" y2="217.1" stroke="#000" stroke-width="1.2"/>
<line x1="307.6" y1="213.0" x2="313.2" y2="213.0" stroke="#000" stroke-width="1.2"/>
<line x1="310.0" y1="209.0" x2="313.2" y2="209.0" stroke="#000" stroke-width="1.2"/>
<line x1="310.0" y1="204.9" x2="313.2" y2="204.9" stroke="#000" stroke-width="1.2"/>
<line x1="310.0" y1="200.8" x2="313.2" y2="200.8" stroke="#000" stroke-width="1.2"/>
<line x1="310.0" y1="196.7" x2="313.2" y2="196.7" stroke="#000" stroke-width="1.2"/>
<line x1="307.6" y1="192.6" x2="313.2" y2="192.6" stroke="#000" stroke-width="1.2"/>
<line x1="314.0" y1="295.30" x2="314.0" y2="301.30" stroke="#000" stroke-width="1.1"/>
<line x1="328.7" y1="295.30" x2="328.7" y2="298.50" stroke="#000" stroke-width="1.1"/>
<line x1="337.3" y1="295.30" x2="337.3" y2="298.50" stroke="#000" stroke-width="1.1"/>
<line x1="343.4" y1="295.30" x2="343.4" y2="298.50" stroke="#000" stroke-width="1.1"/>
<line x1="348.1" y1="295.30" x2="348.1" y2="298.50" stroke="#000" stroke-width="1.1"/>
<line x1="352.0" y1="295.30" x2="352.0" y2="298.50" stroke="#000" stroke-width="1.1"/>
<line x1="355.3" y1="295.30" x2="355.3" y2="298.50" stroke="#000" stroke-width="1.1"/>
<line x1="358.1" y1="295.30" x2="358.1" y2="298.50" stroke="#000" stroke-width="1.1"/>
<line x1="360.6" y1="295.30" x2="360.6" y2="298.50" stroke="#000" stroke-width="1.1"/>
<line x1="362.8" y1="295.30" x2="362.8" y2="301.30" stroke="#000" stroke-width="1.1"/>
<line x1="377.5" y1="295.30" x2="377.5" y2="298.50" stroke="#000" stroke-width="1.1"/>
<line x1="386.1" y1="295.30" x2="386.1" y2="298.50" stroke="#000" stroke-width="1.1"/>
<line x1="392.2" y1="295.30" x2="392.2" y2="298.50" stroke="#000" stroke-width="1.1"/>
<line x1="397.0" y1="295.30" x2="397.0" y2="298.50" stroke="#000" stroke-width="1.1"/>
<line x1="400.8" y1="295.30" x2="400.8" y2="298.50" stroke="#000" stroke-width="1.1"/>
<line x1="404.1" y1="295.30" x2="404.1" y2="298.50" stroke="#000" stroke-width="1.1"/>
<line x1="406.9" y1="295.30" x2="406.9" y2="298.50" stroke="#000" stroke-width="1.1"/>
<line x1="409.4" y1="295.30" x2="409.4" y2="298.50" stroke="#000" stroke-width="1.1"/>
<line x1="411.7" y1="295.30" x2="411.7" y2="301.30" stroke="#000" stroke-width="1.1"/>
<line x1="426.4" y1="295.30" x2="426.4" y2="298.50" stroke="#000" stroke-width="1.1"/>
<line x1="435.0" y1="295.30" x2="435.0" y2="298.50" stroke="#000" stroke-width="1.1"/>
<line x1="441.1" y1="295.30" x2="441.1" y2="298.50" stroke="#000" stroke-width="1.1"/>
<line x1="445.8" y1="295.30" x2="445.8" y2="298.50" stroke="#000" stroke-width="1.1"/>
<line x1="449.7" y1="295.30" x2="449.7" y2="298.50" stroke="#000" stroke-width="1.1"/>
<line x1="452.9" y1="295.30" x2="452.9" y2="298.50" stroke="#000" stroke-width="1.1"/>
<line x1="455.8" y1="295.30" x2="455.8" y2="298.50" stroke="#000" stroke-width="1.1"/>
<line x1="458.3" y1="295.30" x2="458.3" y2="298.50" stroke="#000" stroke-width="1.1"/>
<line x1="460.5" y1="295.30" x2="460.5" y2="301.30" stroke="#000" stroke-width="1.1"/>
<line x1="475.2" y1="295.30" x2="475.2" y2="298.50" stroke="#000" stroke-width="1.1"/>
<line x1="483.8" y1="295.30" x2="483.8" y2="298.50" stroke="#000" stroke-width="1.1"/>
<line x1="489.9" y1="295.30" x2="489.9" y2="298.50" stroke="#000" stroke-width="1.1"/>
<line x1="494.6" y1="295.30" x2="494.6" y2="298.50" stroke="#000" stroke-width="1.1"/>
<line x1="498.5" y1="295.30" x2="498.5" y2="298.50" stroke="#000" stroke-width="1.1"/>
<line x1="501.8" y1="295.30" x2="501.8" y2="298.50" stroke="#000" stroke-width="1.1"/>
<line x1="504.6" y1="295.30" x2="504.6" y2="298.50" stroke="#000" stroke-width="1.1"/>
<line x1="507.1" y1="295.30" x2="507.1" y2="298.50" stroke="#000" stroke-width="1.1"/>
<line x1="509.3" y1="295.30" x2="509.3" y2="301.30" stroke="#000" stroke-width="1.1"/>
<path d="M305.8,308.3 L307.7,306.3 L307.7,314.1" fill="none" stroke="#000" stroke-width="1.5" stroke-linejoin="bevel"/>
<ellipse cx="313.2" cy="310.1" rx="2.0" ry="3.5" fill="none" stroke="#000" stroke-width="1.4"/>
<text class="sans tk" x="317.5" y="307.5" font-size="11.6" textLength="5.4" lengthAdjust="spacingAndGlyphs">0</text>
<path d="M354.8,308.3 L356.7,306.3 L356.7,314.1" fill="none" stroke="#000" stroke-width="1.5" stroke-linejoin="bevel"/>
<ellipse cx="362.2" cy="310.1" rx="2.0" ry="3.5" fill="none" stroke="#000" stroke-width="1.4"/>
<path d="M367.8,302.0 L369.7,300.2 L369.7,307.8" fill="none" stroke="#000" stroke-width="1.45" stroke-linejoin="bevel"/>
<path d="M403.8,308.3 L405.7,306.3 L405.7,314.1" fill="none" stroke="#000" stroke-width="1.5" stroke-linejoin="bevel"/>
<ellipse cx="411.2" cy="310.1" rx="2.0" ry="3.5" fill="none" stroke="#000" stroke-width="1.4"/>
<text class="sans tk" x="415.5" y="307.5" font-size="11.6" textLength="5.4" lengthAdjust="spacingAndGlyphs">2</text>
<path d="M452.8,308.3 L454.7,306.3 L454.7,314.1" fill="none" stroke="#000" stroke-width="1.5" stroke-linejoin="bevel"/>
<ellipse cx="460.2" cy="310.1" rx="2.0" ry="3.5" fill="none" stroke="#000" stroke-width="1.4"/>
<text class="sans tk" x="464.5" y="307.5" font-size="11.6" textLength="5.4" lengthAdjust="spacingAndGlyphs">3</text>
<path d="M501.8,308.3 L503.7,306.3 L503.7,314.1" fill="none" stroke="#000" stroke-width="1.5" stroke-linejoin="bevel"/>
<ellipse cx="509.2" cy="310.1" rx="2.0" ry="3.5" fill="none" stroke="#000" stroke-width="1.4"/>
<text class="sans tk" x="513.5" y="307.5" font-size="11.6" textLength="5.4" lengthAdjust="spacingAndGlyphs">4</text>
<text class="sans yl" transform="translate(302.9,294.5) rotate(-90)" text-anchor="middle" font-size="11.3">0</text>
<text class="sans yl" transform="translate(302.9,192.6) rotate(-90)" text-anchor="middle" font-size="11.3" textLength="18.4" lengthAdjust="spacingAndGlyphs">500</text>
<text x="318.0" y="208.9" font-size="17.5" class="serif lab">D</text>
<text x="500.7" y="211.0" font-size="17.9" text-anchor="end" class="serif lab">SEA</text>
<text x="504.8" y="238.2" font-size="17.9" text-anchor="end" class="serif lab">% Pos. = 90</text>
</svg></body></html>
